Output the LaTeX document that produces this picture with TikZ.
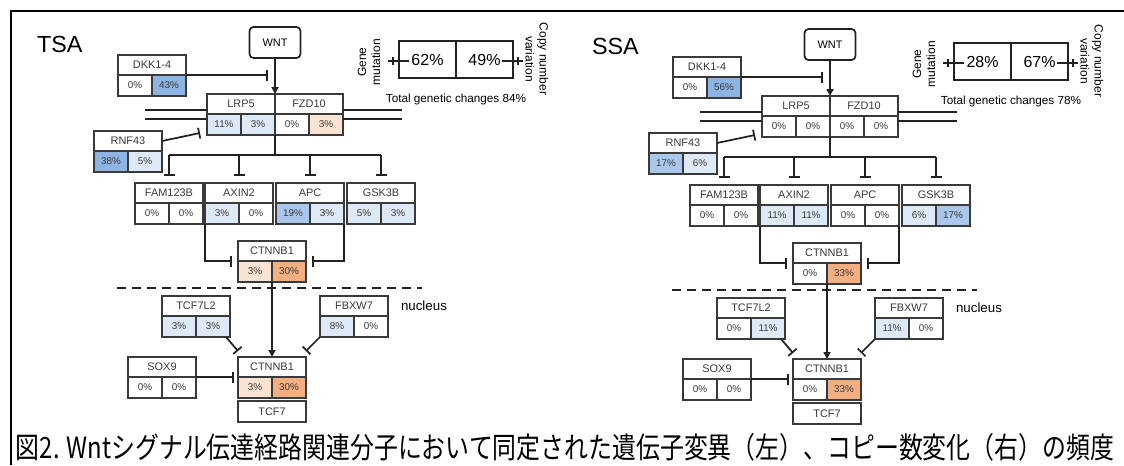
\documentclass[tikz,border=0pt]{standalone}
\usepackage{fontspec}
\usepackage{graphicx}
\setmainfont{Liberation Sans}
\newfontfamily\jpfont{Noto Sans CJK JP}
\usetikzlibrary{arrows.meta}
\newdimen\pxu \pxu=0.75pt
\definecolor{bc}{HTML}{3A3A3A}
\definecolor{tx}{HTML}{3A3A3A}
\definecolor{ln}{HTML}{222222}
\definecolor{cW}{HTML}{FFFFFF}
\definecolor{cBa}{HTML}{DDE9F6}
\definecolor{cBb}{HTML}{A9C7EB}
\definecolor{cBc}{HTML}{8EB4E3}
\definecolor{cOa}{HTML}{FBE3D3}
\definecolor{cOb}{HTML}{F4AF80}
\tikzset{
  every node/.style={outer sep=0pt},
  hdr/.style={draw=bc, line width=1.1pt, minimum width=68\pxu, minimum height=20\pxu, inner sep=0pt, text=tx, font=\fontsize{8.2}{9}\selectfont},
  cell/.style={draw=bc, line width=1.1pt, minimum width=34\pxu, minimum height=21\pxu, inner sep=0pt, text=tx, font=\fontsize{7.4}{9}\selectfont},
  wntbox/.style={draw=ln, line width=1.3pt, rounded corners=3pt, minimum width=51\pxu, minimum height=31\pxu, inner sep=0pt, font=\fontsize{8.2}{9}\selectfont},
  ttl/.style={anchor=base west, inner sep=0pt, font=\fontsize{17.5}{20}\selectfont},
  conn/.style={draw=ln, line width=1.3pt},
  inh/.style={conn, -{Bar[width=8.25pt]}},
  act/.style={conn, -{Triangle[width=5.25pt,length=5.25pt]}},
  dashline/.style={draw=ln, line width=1.5pt, dash pattern=on 6.75pt off 4.5pt},
  lgbox/.style={draw=ln, line width=1.1pt, minimum width=57\pxu, minimum height=37\pxu, inner sep=0pt, font=\fontsize{12}{14}\selectfont},
  rot/.style={align=center, inner sep=0pt, font=\fontsize{9}{10.5}\selectfont},
  small/.style={inner sep=0pt, font=\fontsize{8.8}{10}\selectfont},
  frame/.style={draw=black, line width=1.5pt},
}
% #1 name, #2 x, #3 y, #4 label, #5 value a, #6 fill a, #7 value b, #8 fill b
\newcommand\genebox[8]{%
  \node[hdr, anchor=north west] (#1-h) at (#2,#3) {#4};
  \node[cell, fill=#6, anchor=north west] (#1-a) at (#1-h.south west) {#5};
  \node[cell, fill=#8, anchor=north east] (#1-b) at (#1-h.south east) {#7};
}
\newcommand\panelA[9]{%
  \node[ttl] (title) at (37,52) {#1};
  \node[wntbox] (wnt) at (275,42.5) {WNT};
  \genebox{dkk}{118}{55}{DKK1-4}#2
  \genebox{lrp}{207}{94}{LRP5}#3
  \genebox{fzd}{275}{94}{FZD10}#4
  \genebox{rnf}{94}{131}{RNF43}#5
  \genebox{fam}{135}{183}{FAM123B}#6
  \genebox{axn}{205}{183}{AXIN2}#7
  \genebox{apc}{276}{183}{APC}#8
  \genebox{gsk}{347}{183}{GSK3B}#9
  \draw[act] (wnt.south) -- (lrp-h.north east);
  \coordinate (dkkend) at (268,75);
  \draw[inh] (dkk-h.south east) -- (dkkend);
  \coordinate (rnfend) at (200,133);
  \draw[inh] (rnf-h.east) -- (rnfend);
  \coordinate (ml1) at (145,110);
  \coordinate (ml2) at (145,119);
  \coordinate (mr1) at (402,110);
  \coordinate (mr2) at (402,119);
  \draw[conn] (ml1) -- (ml1 -| lrp-h.west);
  \draw[conn] (ml2) -- (ml2 -| lrp-h.west);
  \draw[conn] (mr1) -- (mr1 -| fzd-h.east);
  \draw[conn] (mr2) -- (mr2 -| fzd-h.east);
  \coordinate (br) at (275,155);
  \draw[conn] (lrp-b.south east) -- (br);
  \draw[conn] (fam-h.north |- br) -- (gsk-h.north |- br);
  \draw[inh] (fam-h.north |- br) -- ([yshift=7\pxu]fam-h.north);
  \draw[inh] (axn-h.north |- br) -- ([yshift=7\pxu]axn-h.north);
  \draw[inh] (apc-h.north |- br) -- ([yshift=7\pxu]apc-h.north);
  \draw[inh] (gsk-h.north |- br) -- ([yshift=7\pxu]gsk-h.north);
}
\newcommand\panelB[8]{%
  \genebox{ctc}{238}{241}{CTNNB1}#1
  \genebox{tcf}{162}{296}{TCF7L2}#2
  \genebox{fbx}{320}{296}{FBXW7}#3
  \genebox{sox}{128}{357}{SOX9}#4
  \genebox{ctn}{238}{357}{CTNNB1}#5
  \node[hdr, minimum height=21\pxu, anchor=north west] (tcf7) at (238,401) {TCF7};
  \draw[inh] (axn-a.south west) |- ([xshift=-6\pxu]ctc-h.south west);
  \draw[inh] (apc-b.south east) |- ([xshift=6\pxu]ctc-h.south east);
  \coordinate (dl) at (117,288);
  \coordinate (dr) at (422,288);
  \draw[dashline] (dl) -- (dr);
  \draw[act] (ctc-a.south east) -- (ctc-a.south east |- ctn-h.north);
  \draw[inh] ([xshift=-4\pxu]tcf-b.south east) -- ([yshift=6\pxu]ctn-h.north west);
  \draw[inh] (fbx-a.south west) -- ([yshift=6\pxu]ctn-h.north east);
  \draw[inh] (sox-h.south east) -- ([xshift=-4\pxu]ctn-h.south west);
  \node[anchor=west, inner sep=0pt, font=\fontsize{10}{12}\selectfont] (nuc) at (401,306) {nucleus};
  \node[lgbox] (lga) at (427.5,59.5) {#6};
  \node[lgbox] (lgb) at (484.5,59.5) {#7};
  \draw[conn, line width=1.1pt] ([xshift=-11\pxu,yshift=-1.5\pxu]lga.west) -- ++(21,0);
  \draw[conn, line width=1.1pt] ([xshift=-6\pxu,yshift=2.5\pxu]lga.west) -- ++(0,8);
  \draw[conn, line width=1.1pt] ([xshift=-11\pxu,yshift=-1.5\pxu]lgb.east) -- ++(21,0);
  \draw[conn, line width=1.1pt] ([xshift=5\pxu,yshift=2.5\pxu]lgb.east) -- ++(0,8);
  \node[rot, rotate=90] (gm) at (369,62) {Gene\\mutation};
  \node[rot, rotate=-90] (cnv) at (537,59) {Copy number\\variation};
  \node[small] (tot) at (456,99) {Total genetic changes #8};
}
\begin{document}
\begin{tikzpicture}[x=0.75pt, y=-0.75pt]
  \useasboundingbox (0,0) rectangle (1124,465);
  \coordinate (ftl) at (11,11);
  \coordinate (ftr) at (1124,11);
  \coordinate (fbl) at (11,465);
  \draw[frame] (ftr) -- (ftl) -- (fbl);
  \begin{scope}
    \panelA{TSA}{{0\%}{cW}{43\%}{cBc}}{{11\%}{cBa}{3\%}{cBa}}{{0\%}{cW}{3\%}{cOa}}{{38\%}{cBc}{5\%}{cBa}}{{0\%}{cW}{0\%}{cW}}{{3\%}{cBa}{0\%}{cW}}{{19\%}{cBb}{3\%}{cBa}}{{5\%}{cBa}{3\%}{cBa}}
    \panelB{{3\%}{cOa}{30\%}{cOb}}{{3\%}{cBa}{3\%}{cBa}}{{8\%}{cBa}{0\%}{cW}}{{0\%}{cW}{0\%}{cW}}{{3\%}{cOa}{30\%}{cOb}}{62\%}{49\%}{84\%}
  \end{scope}
  \begin{scope}[shift={(555,2)}, name prefix=R-]
    \panelA{SSA}{{0\%}{cW}{56\%}{cBc}}{{0\%}{cW}{0\%}{cW}}{{0\%}{cW}{0\%}{cW}}{{17\%}{cBb}{6\%}{cBa}}{{0\%}{cW}{0\%}{cW}}{{11\%}{cBa}{11\%}{cBa}}{{0\%}{cW}{0\%}{cW}}{{6\%}{cBa}{17\%}{cBb}}
    \panelB{{0\%}{cW}{33\%}{cOb}}{{0\%}{cW}{11\%}{cBa}}{{11\%}{cBa}{0\%}{cW}}{{0\%}{cW}{0\%}{cW}}{{0\%}{cW}{33\%}{cOb}}{28\%}{67\%}{78\%}
  \end{scope}
  \node[inner sep=0pt, font=\jpfont\fontsize{22}{26}\selectfont] (cap) at (565,447) {\resizebox{823.5pt}{\height}{図2. Wntシグナル伝達経路関連分子において同定された遺伝子変異（左）、コピー数変化（右）の頻度}};
\end{tikzpicture}
\end{document}
